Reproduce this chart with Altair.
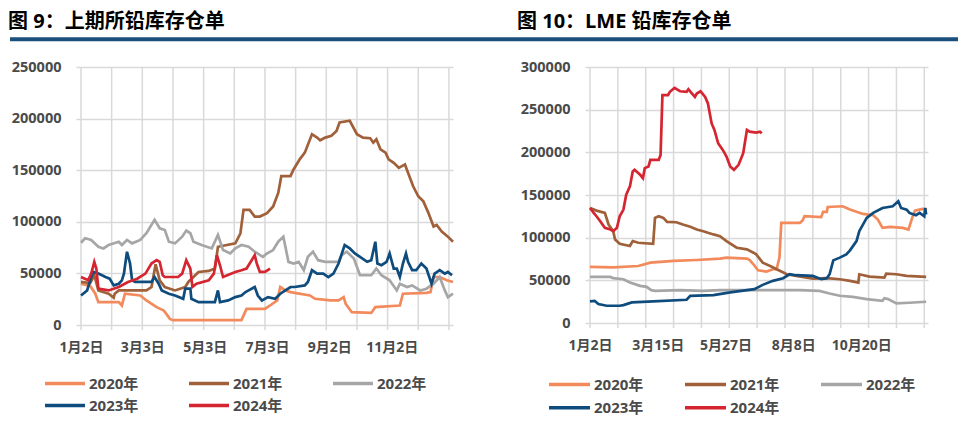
import altair as alt
import pandas as pd

FONT = "Open Sans, Noto Sans CJK SC"
TEXT_COLOR = "#4A4A4A"
GRID_COLOR = "#D9D9D9"
RULE_BLUE = "#1B4F7C"

YEARS = ["2020年", "2021年", "2022年", "2023年", "2024年"]
COLORS = ["#F28A5C", "#A0603A", "#A6A6A6", "#0F4C7E", "#D42530"]

TITLE_SHFE = "图 9：上期所铅库存仓单"
TITLE_LME = "图 10：LME 铅库存仓单"

GRID_DAYS = [0, 30, 60, 90, 120, 150, 180, 210, 240, 270, 300, 330, 360]

SHFE_LABEL_DAYS = [0, 60, 121, 182, 243, 304]
SHFE_LABELS = ["1月2日", "3月3日", "5月3日", "7月3日", "9月2日", "11月2日"]
LME_LABEL_DAYS = [0, 73, 146, 219, 292]
LME_LABELS = ["1月2日", "3月15日", "5月27日", "8月8日", "10月20日"]

SHFE_TICKS = [0, 50000, 100000, 150000, 200000, 250000]
LME_TICKS = [0, 50000, 100000, 150000, 200000, 250000, 300000]

# ---------------- SHFE (上期所) ----------------
S20_D = [0, 9, 14, 17, 37, 40, 43, 58, 64, 74, 81, 87, 90, 157, 162, 180, 185, 192, 195, 200,
         205, 224, 229, 244, 252, 257, 259, 265, 284, 288, 312, 315, 338, 342, 345, 351, 358, 364]
S20_V = [40000, 37800, 30300, 22100, 22100, 18900, 30300, 28600, 23800, 17300, 14000, 5900, 4700,
         4700, 15600, 15600, 18900, 23800, 36800, 33500, 31900, 28600, 25400, 23800, 23800, 27000,
         20500, 12400, 11700, 17300, 18900, 30300, 31200, 31900, 46500, 46500, 43300, 41700]

S21_D = [0, 9, 13, 17, 27, 32, 33, 37, 64, 69, 73, 77, 82, 92, 102, 105, 115, 125, 131, 134,
         151, 156, 159, 165, 170, 175, 182, 188, 193, 196, 205, 208, 214, 219, 226, 231, 234, 239,
         245, 250, 253, 263, 270, 276, 283, 286, 289, 293, 298, 301, 306, 311, 317, 320, 325, 330,
         335, 340, 345, 348, 353, 359, 364]
S21_V = [41700, 40700, 48200, 33500, 30300, 26400, 30300, 33500, 33500, 36800, 58900, 43300, 36800,
         33500, 36800, 41700, 51400, 52400, 54700, 75800, 79100, 88900, 111600, 111600, 105100,
         105100, 108400, 114900, 127900, 144200, 144200, 150700, 160500, 167000, 184900, 181600,
         179000, 181600, 183300, 188100, 196300, 197900, 184900, 181600, 181000, 176700, 180000,
         170200, 167000, 160500, 157200, 152300, 155600, 147500, 134400, 124700, 119800, 108400,
         95400, 97000, 90500, 85600, 80700]

S22_D = [0, 4, 10, 17, 22, 27, 37, 40, 45, 50, 58, 64, 72, 77, 82, 86, 92, 99, 103, 107, 110, 118,
         128, 134, 139, 146, 151, 157, 164, 170, 178, 182, 188, 193, 198, 200, 203, 208, 213, 218,
         222, 227, 232, 239, 252, 255, 260, 267, 273, 284, 289, 294, 302, 309, 312, 319, 324, 332,
         338, 345, 351, 356, 359, 364]
S22_V = [79700, 84000, 82400, 75800, 74200, 77500, 80700, 77500, 82400, 79100, 82400, 88900, 101900,
         93700, 92100, 80700, 79100, 85600, 91500, 88900, 80700, 77500, 74200, 87200, 72600, 69300,
         74200, 77500, 75800, 71000, 66100, 69300, 72600, 80700, 85600, 75800, 61200, 59600, 61200,
         53100, 66100, 71000, 62800, 61200, 61200, 67700, 71000, 64400, 48200, 48200, 54700, 48200,
         43300, 33500, 40000, 36800, 38400, 33500, 35200, 40000, 46500, 33500, 27000, 30300]

S23_D = [0, 6, 9, 12, 17, 24, 28, 32, 37, 40, 42, 45, 48, 50, 53, 69, 72, 76, 79, 86, 92, 100, 102,
         107, 108, 115, 131, 134, 136, 144, 151, 157, 161, 164, 170, 173, 177, 183, 190, 195, 200,
         205, 209, 219, 222, 226, 231, 237, 242, 247, 252, 258, 263, 268, 273, 280, 284, 288, 290,
         294, 299, 302, 306, 309, 312, 315, 318, 320, 324, 328, 333, 338, 343, 346, 351, 356, 359, 363]
S23_V = [28600, 33500, 43300, 51400, 49800, 46500, 44900, 38400, 40000, 43300, 49800, 71000, 59600,
         43300, 41700, 41700, 46500, 40000, 33500, 30300, 28600, 25400, 35200, 35200, 25400, 22100,
         22100, 33500, 22100, 23800, 27000, 28600, 31900, 33500, 36800, 28600, 23800, 27000, 25400,
         30300, 33500, 36800, 36800, 38400, 41700, 53100, 49800, 49800, 46500, 49800, 59600, 77500,
         74200, 69300, 66100, 61200, 62800, 80700, 59600, 57900, 61200, 69300, 54700, 54700, 46500,
         59600, 69300, 61200, 53100, 53100, 59600, 54700, 40000, 49800, 53100, 49800, 51400, 48200]

S24_D = [0, 7, 10, 13, 15, 17, 27, 37, 46, 55, 63, 69, 74, 77, 80, 82, 95, 99, 103, 107, 109, 113,
         125, 130, 133, 136, 139, 151, 157, 162, 167, 170, 172, 175, 180, 185]
S24_V = [46500, 43300, 49800, 61200, 54700, 35200, 33500, 36800, 41700, 44900, 49800, 59600, 62800,
         61200, 48200, 46500, 46500, 49800, 62800, 54700, 36800, 40000, 43300, 49800, 67700, 57900,
         46500, 51400, 53100, 54700, 62800, 67700, 59600, 51400, 51400, 54700]

# ---------------- LME ----------------
L20_D = [0, 25, 52, 65, 90, 115, 140, 147, 169, 172, 176, 181, 190, 197, 201, 204, 206, 226, 229,
         231, 249, 251, 255, 256, 272, 280, 294, 305, 310, 315, 323, 337, 343, 347, 350, 358, 363]
L20_V = [65700, 65300, 66800, 70700, 72700, 73800, 75400, 76600, 75400, 73800, 68800, 61800, 60200,
         63000, 63000, 76600, 117400, 117400, 120100, 125100, 124000, 130200, 130200, 136000,
         136800, 132900, 127800, 126300, 121200, 111500, 112700, 111500, 109600, 123200, 131700,
         133700, 132900]

L21_D = [0, 7, 16, 20, 25, 27, 32, 43, 46, 52, 68, 70, 74, 79, 83, 93, 100, 108, 115, 122, 127, 133,
         140, 147, 158, 169, 176, 179, 186, 194, 201, 212, 222, 240, 255, 269, 280, 289, 290, 301,
         317, 319, 330, 341, 362]
L21_V = [134800, 131700, 129000, 115400, 107600, 97900, 92900, 90200, 96000, 94000, 92900, 123200,
         125100, 123200, 118500, 118100, 115400, 112700, 109600, 107600, 105700, 103800, 101800,
         96000, 88200, 86300, 82400, 80400, 70700, 66800, 63000, 57100, 55200, 52100, 52500, 51300,
         49400, 47400, 57100, 54400, 53200, 57900, 57100, 55200, 54000]

L22_D = [0, 22, 25, 36, 43, 54, 61, 66, 70, 97, 122, 140, 177, 226, 247, 258, 269, 283, 298, 315,
         317, 321, 330, 344, 362]
L22_V = [54000, 54000, 52500, 51300, 47400, 43500, 42400, 38500, 37700, 38500, 37700, 38500, 38500,
         38500, 37700, 34600, 31900, 30700, 28000, 26000, 29100, 28000, 22900, 23700, 24900]

L23_D = [0, 5, 9, 18, 32, 36, 45, 68, 104, 108, 133, 151, 177, 186, 197, 208, 215, 222, 240, 249,
         255, 258, 262, 269, 276, 280, 287, 290, 298, 305, 315, 326, 332, 335, 341, 344, 351, 355,
         360, 361, 362]
L23_V = [25300, 26000, 22200, 20200, 20200, 21000, 24100, 25300, 27200, 31900, 32600, 35800, 39600,
         44700, 49400, 52500, 57100, 56000, 55200, 51300, 52500, 57100, 73400, 76600, 80400, 85100,
         96000, 107600, 123200, 129000, 134800, 136800, 142600, 134800, 132900, 129000, 126300,
         129000, 125100, 134800, 127100]

L24_D = [0, 4, 7, 11, 16, 22, 25, 29, 32, 36, 39, 43, 46, 48, 54, 57, 59, 63, 65, 74, 76, 78, 84, 86,
         91, 97, 104, 106, 109, 113, 115, 119, 124, 127, 131, 134, 138, 143, 147, 151, 155, 160,
         165, 169, 172, 179, 183, 185]
L24_V = [134800, 129000, 125100, 119300, 111500, 109600, 107600, 111500, 125100, 132900, 150400,
         160100, 177600, 179500, 173700, 169800, 181500, 183400, 191200, 191200, 197000, 267000,
         267000, 270900, 275500, 271600, 270900, 274000, 270100, 265000, 268900, 271600, 265000,
         257300, 233900, 226200, 210600, 202800, 195100, 183400, 179500, 185400, 199000, 226200,
         224200, 223100, 224200, 222300]

SHFE_SERIES = [(S20_D, S20_V), (S21_D, S21_V), (S22_D, S22_V), (S23_D, S23_V), (S24_D, S24_V)]
LME_SERIES = [(L20_D, L20_V), (L21_D, L21_V), (L22_D, L22_V), (L23_D, L23_V), (L24_D, L24_V)]


def make_df(series):
    rows = []
    for year, (days, vals) in zip(YEARS, series):
        for d, v in zip(days, vals):
            rows.append({"year": year, "day": d, "value": v})
    return pd.DataFrame(rows)


def label_expr(days, texts):
    arr_t = ",".join("'" + t + "'" for t in texts)
    arr_d = ",".join(str(d) for d in days)
    return "[" + arr_t + "][indexof([" + arr_d + "], datum.value)]"


def one_row():
    return pd.DataFrame({"k": [0]})


def panel(series, width, height, ticks, label_days, label_texts, title,
          leg_x0, leg_dx, leg_len, leg_rows, first):
    xscale = alt.Scale(domain=[0, 364], nice=False, zero=False)
    yscale = alt.Scale(domain=[0, ticks[-1]], nice=False)
    xaxis = alt.Axis(values=label_days, labelExpr=label_expr(label_days, label_texts),
                     grid=False, ticks=False, domain=False, labelPadding=15,
                     labelFont=FONT, labelFontSize=14, labelFontWeight="bold",
                     labelColor=TEXT_COLOR, labelOverlap=False, labelFlush=False,
                     labelAngle=0, title=None)
    yaxis = alt.Axis(values=ticks, format="d", grid=True, gridColor=GRID_COLOR, gridWidth=1.5,
                     domain=False, ticks=True, tickColor=GRID_COLOR, tickWidth=1.5, tickSize=5,
                     labelPadding=15, labelFont=FONT, labelFontSize=14.5,
                     labelFontWeight="bold", labelColor=TEXT_COLOR, title=None)

    grid = alt.Chart(pd.DataFrame({"day": GRID_DAYS})).mark_rule(
        color=GRID_COLOR, strokeWidth=1.5
    ).encode(
        x=alt.X("day:Q", scale=xscale, axis=xaxis),
        y=alt.value(0),
        y2=alt.value(height + 5),
    )

    lines = alt.Chart(make_df(series)).mark_line(strokeWidth=2.7).encode(
        x=alt.X("day:Q", scale=xscale, axis=xaxis),
        y=alt.Y("value:Q", scale=yscale, axis=yaxis),
        color=alt.Color("year:N", scale=alt.Scale(domain=YEARS, range=COLORS), legend=None),
    )

    title_layer = alt.Chart(pd.DataFrame({"t": [title]})).mark_text(
        align="left", baseline="middle", font=FONT, fontSize=20, fontWeight="bold",
        color="#000000"
    ).encode(x=alt.value(-73), y=alt.value(-45.5), text="t:N")

    layers = [grid, lines, title_layer]

    for i, (yr, col) in enumerate(zip(YEARS, COLORS)):
        r, c = divmod(i, 3)
        lx = leg_x0 + c * leg_dx
        ly = leg_rows[r]
        layers.append(
            alt.Chart(one_row()).mark_rule(color=col, strokeWidth=3.5).encode(
                x=alt.value(lx), x2=alt.value(lx + leg_len), y=alt.value(ly))
        )
        layers.append(
            alt.Chart(pd.DataFrame({"t": [yr]})).mark_text(
                align="left", baseline="middle", font=FONT, fontSize=15,
                fontWeight="bold", color=TEXT_COLOR
            ).encode(x=alt.value(lx + leg_len + 4), y=alt.value(ly), text="t:N")
        )

    if first:
        # white anchor fixing the top-left corner of the page layout
        layers.append(
            alt.Chart(one_row()).mark_rule(color="#FFFFFF", strokeWidth=1).encode(
                x=alt.value(-72.5), x2=alt.value(-71.5), y=alt.value(-58))
        )
        # dark-blue divider under both titles
        layers.append(
            alt.Chart(one_row()).mark_rule(color=RULE_BLUE, strokeWidth=4).encode(
                x=alt.value(-71), x2=alt.value(877), y=alt.value(-27.8))
        )

    return alt.layer(*layers).properties(width=width, height=height)


left = panel(SHFE_SERIES, 372, 258, SHFE_TICKS, SHFE_LABEL_DAYS, SHFE_LABELS, TITLE_SHFE,
             leg_x0=-36, leg_dx=144, leg_len=40, leg_rows=[316.5, 338.5], first=True)
right = panel(LME_SERIES, 338, 256, LME_TICKS, LME_LABEL_DAYS, LME_LABELS, TITLE_LME,
              leg_x0=-41, leg_dx=136, leg_len=41, leg_rows=[317.5, 340.8], first=False)

chart = alt.hconcat(left, right, spacing=137, bounds="flush", padding=0).configure_view(
    stroke=None
).properties(background="#FFFFFF")

chart.save("out.html", embed_options={"renderer": "svg", "actions": False})
